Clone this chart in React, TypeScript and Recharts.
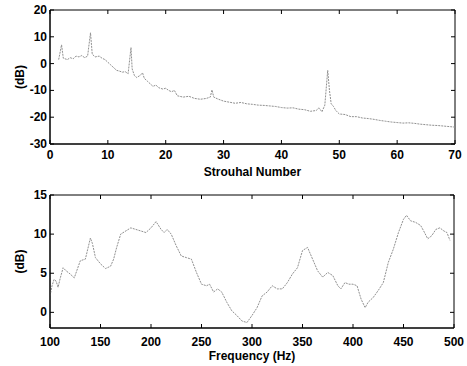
import React from 'react';
import { LineChart, Line, XAxis, YAxis, ReferenceArea, Label } from 'recharts';

// top panel: spectrum vs Strouhal number
const strouhal = [
  1.5, 2.0, 2.3, 3, 3.5, 4, 4.5, 5, 5.5, 6, 6.5, 7.0, 7.3, 7.8, 8.5, 9, 9.5, 10, 10.5, 11, 11.5, 12,
  12.5, 13, 13.5, 14.0, 14.2, 14.6, 15, 15.5, 16, 16.3, 16.8, 17.3, 17.8, 18.3, 18.8, 19.5, 20, 20.5,
  21, 21.5, 22, 23, 24, 25, 26, 27, 27.7, 28.0, 28.3, 29, 30, 31, 32, 33, 34, 35, 36, 37, 38, 39, 40,
  41, 42, 43, 44, 45, 46, 46.5, 47, 47.5, 48.0, 48.3, 48.6, 49, 49.4, 50, 51, 52, 53, 54, 55, 56, 57,
  58, 59, 60, 61, 62, 63, 64, 65, 66, 67, 68, 69, 70,
];
const strouhalDb = [
  1.5, 7.0, 2.0, 1.5, 2.2, 1.8, 2.8, 2.5, 3.0, 2.2, 2.8, 11.5, 3.5, 2.5, 2.8, 2.0, 1.5, 0.5, -0.5, -1.5,
  -2.5, -2.8, -3.2, -3.0, -3.8, 6.0, -2.0, -4.5, -5.2, -4.5, -3.5, -5.5, -6.5, -7.5, -8.5, -8.0, -9.0,
  -9.5, -9.2, -10.0, -10.5, -10.0, -12.0, -12.5, -12.2, -13.0, -13.3, -13.0, -12.5, -9.8, -12.5, -13.2,
  -14.0, -14.4, -14.8, -14.5, -15.0, -15.2, -15.5, -15.6, -15.8, -16.0, -16.4, -16.6, -16.5, -17.0,
  -17.2, -17.8, -17.5, -16.5, -18.0, -15.5, -2.5, -10.0, -15.0, -16.0, -17.5, -18.8, -19.0, -19.8,
  -19.8, -20.3, -20.5, -20.8, -21.2, -21.5, -21.8, -22.0, -22.2, -22.1, -22.3, -22.6, -22.8, -23.0,
  -23.1, -23.3, -23.5, -23.7,
];

// bottom panel: spectrum vs frequency
const freq = [
  100, 102, 104, 106, 108, 110, 113, 116, 120, 124, 130, 135, 140, 142, 145, 150, 155, 160, 163, 166,
  170, 180, 185, 190, 195, 200, 205, 210, 213, 216, 220, 225, 230, 235, 240, 245, 250, 255, 258, 262,
  266, 270, 275, 280, 285, 290, 295, 300, 305, 310, 315, 320, 325, 330, 335, 340, 345, 350, 355, 360,
  365, 370, 375, 380, 385, 388, 392, 396, 400, 404, 408, 412, 415, 420, 425, 430, 435, 440, 445, 450,
  453, 457, 462, 467, 470, 474, 478, 482, 486, 490, 493, 496,
];
const freqDb = [
  2.1, 3.4, 4.2, 4.0, 3.2, 4.3, 5.7, 5.3, 4.9, 4.4, 6.6, 6.8, 9.5, 8.8, 7.0, 6.2, 5.6, 5.9, 6.8, 8.3,
  10.0, 10.8, 10.6, 10.4, 10.2, 10.8, 11.6, 10.6, 10.2, 10.6, 10.0, 8.5, 7.2, 7.0, 6.8, 5.1, 3.6, 3.4,
  3.6, 2.6, 3.0, 2.6, 1.3, 0.2, -0.4, -1.1, -1.3, -0.4, 0.6, 2.1, 2.6, 3.4, 3.0, 3.0, 3.8, 4.9, 5.7,
  7.9, 8.3, 6.8, 5.3, 4.5, 5.1, 4.7, 3.4, 3.0, 3.8, 3.6, 3.6, 3.4, 1.7, 0.6, 1.3, 1.9, 2.8, 3.8, 6.4,
  8.1, 10.2, 11.9, 12.4, 11.7, 11.5, 11.1, 10.4, 9.4, 9.8, 10.6, 10.8, 10.4, 10.2, 9.2,
];

const stTicks = [0, 10, 20, 30, 40, 50, 60, 70];
const topDbTicks = [-30, -20, -10, 0, 10, 20];
const freqTicks = [100, 150, 200, 250, 300, 350, 400, 450, 500];
const bottomDbTicks = [0, 5, 10, 15];

const topData = strouhal.map((st, i) => ({ st, db: strouhalDb[i] }));
const bottomData = freq.map((f, i) => ({ f, db: freqDb[i] }));

const font = { fontFamily: 'Liberation Sans, Arial, sans-serif', fontWeight: 700, fontSize: 12 };

const BottomTick = (props: any) => {
  const { x, y, payload, plotH, dy } = props;
  return (
    <g>
      <line x1={x} y1={y} x2={x} y2={y - 4} stroke="#000" />
      <line x1={x} y1={y - plotH} x2={x} y2={y - plotH + 4} stroke="#000" />
      <text x={x} y={y + dy} textAnchor="middle" fill="#000" style={font}>
        {payload.value}
      </text>
    </g>
  );
};

const LeftTick = (props: any) => {
  const { x, y, payload, plotW } = props;
  return (
    <g>
      <line x1={x} y1={y} x2={x + 4} y2={y} stroke="#000" />
      <line x1={x + plotW} y1={y} x2={x + plotW - 4} y2={y} stroke="#000" />
      <text x={x - 3} y={y + 4} textAnchor="end" fill="#000" style={font}>
        {payload.value}
      </text>
    </g>
  );
};

export default function App() {
  return (
    <div style={{ position: 'absolute', left: 0, top: 0, width: 467, height: 366, background: '#fff' }}>
      <LineChart width={467} height={183} data={topData} margin={{ top: 10, right: 12, bottom: 5, left: 20 }}>
        <XAxis
          dataKey="st"
          type="number"
          domain={[0, 70]}
          ticks={stTicks}
          allowDataOverflow
          height={34}
          tickLine={false}
          tickSize={0}
          tickMargin={0}
          axisLine={{ stroke: '#000' }}
          tick={<BottomTick plotH={134} dy={15} />}
        >
          <Label value="Strouhal Number" position="insideBottom" offset={2} style={font} fill="#000" />
        </XAxis>
        <YAxis
          type="number"
          domain={[-30, 20]}
          ticks={topDbTicks}
          allowDataOverflow
          width={30}
          tickLine={false}
          tickSize={0}
          tickMargin={0}
          axisLine={{ stroke: '#000' }}
          tick={<LeftTick plotW={405} />}
        >
          <Label value="(dB)" angle={-90} position="insideLeft" offset={0} style={{ ...font, textAnchor: 'middle' }} fill="#000" />
        </YAxis>
        <ReferenceArea x1={0} x2={70} y1={-30} y2={20} fill="none" stroke="#000" strokeOpacity={1} />
        <Line
          type="linear"
          dataKey="db"
          stroke="#909090"
          strokeWidth={1}
          strokeDasharray="2 1"
          dot={false}
          isAnimationActive={false}
        />
      </LineChart>
      <LineChart width={467} height={183} data={bottomData} margin={{ top: 12, right: 13, bottom: 4, left: 20 }}>
        <XAxis
          dataKey="f"
          type="number"
          domain={[100, 500]}
          ticks={freqTicks}
          allowDataOverflow
          height={34}
          tickLine={false}
          tickSize={0}
          tickMargin={0}
          axisLine={{ stroke: '#000' }}
          tick={<BottomTick plotH={133} dy={18} />}
        >
          <Label value="Frequency (Hz)" position="insideBottom" offset={2} style={font} fill="#000" />
        </XAxis>
        <YAxis
          type="number"
          domain={[-2, 15]}
          ticks={bottomDbTicks}
          allowDataOverflow
          width={30}
          tickLine={false}
          tickSize={0}
          tickMargin={0}
          axisLine={{ stroke: '#000' }}
          tick={<LeftTick plotW={404} />}
        >
          <Label value="(dB)" angle={-90} position="insideLeft" offset={0} style={{ ...font, textAnchor: 'middle' }} fill="#000" />
        </YAxis>
        <ReferenceArea x1={100} x2={500} y1={-2} y2={15} fill="none" stroke="#000" strokeOpacity={1} />
        <Line
          type="linear"
          dataKey="db"
          stroke="#909090"
          strokeWidth={1}
          strokeDasharray="2 1"
          dot={false}
          isAnimationActive={false}
        />
      </LineChart>
    </div>
  );
}
